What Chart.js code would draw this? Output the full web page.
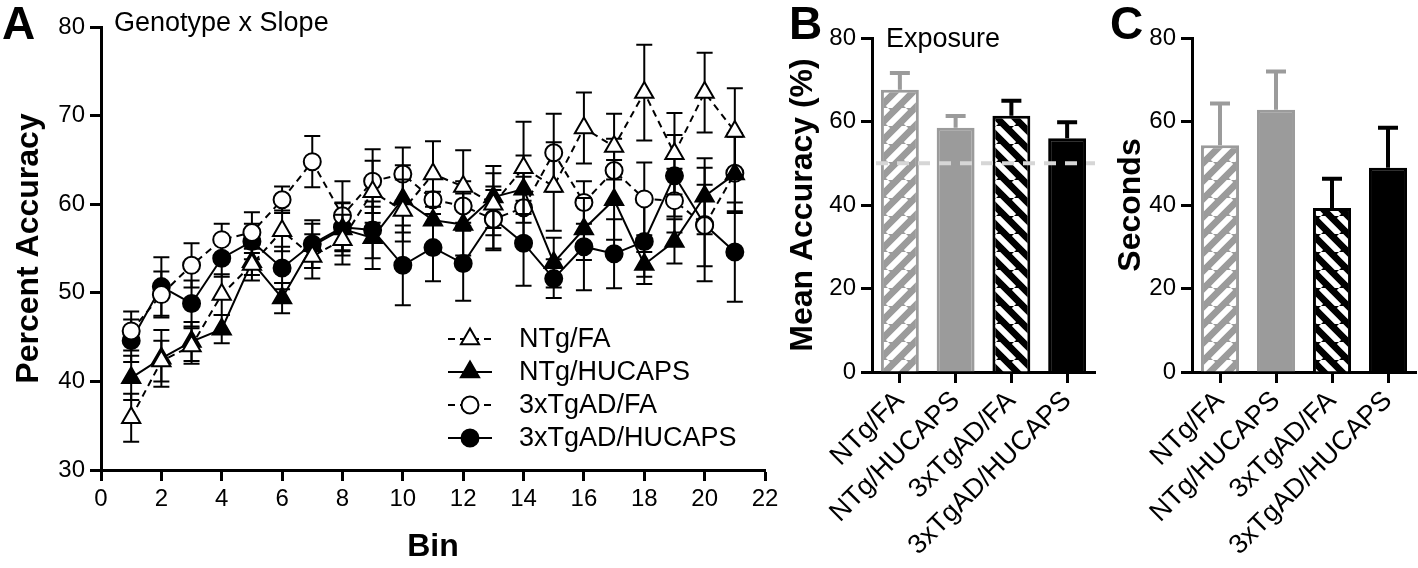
<!DOCTYPE html>
<html><head><meta charset="utf-8">
<script src="https://cdn.jsdelivr.net/npm/chart.js@4.4.0/dist/chart.umd.min.js"></script>
<style>
html,body{margin:0;padding:0;background:#fff;}
#wrap{position:relative;width:1418px;height:568px;overflow:hidden;font-family:"Liberation Sans",Arial,sans-serif;color:#000;}
canvas{position:absolute;top:0;}
.big{position:absolute;font-weight:bold;line-height:1;font-size:46px;}
.note{position:absolute;line-height:1;font-size:27px;white-space:nowrap;}
</style></head><body>
<div id="wrap">
<canvas id="cA" width="790" height="568" style="left:0;width:790px;height:568px"></canvas>
<canvas id="cB" width="330" height="568" style="left:780px;width:330px;height:568px"></canvas>
<canvas id="cC" width="313" height="568" style="left:1105px;width:313px;height:568px"></canvas>
<div class="big" style="left:2px;top:0px">A</div>
<div class="big" style="left:789px;top:0px">B</div>
<div class="big" style="left:1110px;top:0px">C</div>
<div class="note" style="left:114px;top:9px">Genotype x Slope</div>
<div class="note" style="left:886px;top:25px">Exposure</div>
</div>
<script>
// ---------- data ----------
const bins = [1,2,3,4,5,6,7,8,9,10,11,12,13,14,15,16,17,18,19,20,21];
const seriesNames = ['NTg/FA','NTg/HUCAPS','3xTgAD/FA','3xTgAD/HUCAPS'];
const ntgFA    = [35.9,42.3,44.0,49.8,53.2,57.0,54.1,56.0,61.4,59.3,63.4,62.0,60.0,64.1,62.0,68.6,66.5,72.6,65.7,72.6,68.2];
const ntgFAse  = [2.7,2.3,2.0,2.3,1.8,2.3,2.5,2.8,3.5,3.5,3.7,4.1,3.5,5.2,5.0,4.0,3.7,5.4,4.6,4.5,4.9];
const ntgHU    = [40.4,42.6,44.5,45.9,53.5,49.4,55.3,57.2,56.2,60.6,58.2,57.7,60.8,61.7,53.4,57.2,60.5,53.2,55.8,60.9,63.4];
const ntgHUse  = [2.5,3.2,2.2,1.6,1.5,1.7,2.5,3.0,3.5,3.8,3.2,3.5,3.5,3.8,2.8,3.5,4.5,1.4,2.5,4.3,4.2];
const tgFA     = [45.7,49.8,53.1,56.0,56.8,60.5,64.8,58.7,62.6,63.4,60.5,59.8,58.3,59.6,65.8,60.2,63.8,60.6,60.4,57.6,63.5];
const tgFAse   = [2.2,2.6,2.5,1.8,2.3,1.5,2.9,3.9,3.6,3.0,2.6,2.8,3.3,3.5,4.4,2.4,3.6,4.1,3.6,4.6,4.5];
const tgHU     = [44.6,50.7,48.8,53.9,55.8,52.8,55.5,57.4,57.1,53.1,55.1,53.3,58.4,55.6,51.6,55.2,54.4,55.8,63.2,57.7,54.6];
const tgHUse   = [2.4,3.3,2.6,2.1,2.0,2.4,2.7,2.7,3.2,4.5,3.8,4.2,3.6,4.8,2.2,4.9,3.9,4.8,4.6,6.4,5.6];

const groups   = ['NTg/FA','NTg/HUCAPS','3xTgAD/FA','3xTgAD/HUCAPS'];
const accMean  = [67.6,58.5,61.4,56.0];
const accSE    = [4.0,2.8,3.6,3.8];
const chance   = 50;
const secMean  = [54.3,62.8,39.3,48.9];
const secSE    = [10.0,9.2,7.0,9.6];

// ---------- styling helpers ----------
const FAM = '"Liberation Sans", Arial, sans-serif';
const GRAY = '#9b9b9b';
const tickFont = {family:FAM, size:24};
const titleFont = {family:FAM, size:32, weight:'bold'};

function stripes(base, dir) {
  const s = 18, c = document.createElement('canvas');
  c.width = s; c.height = s;
  const g = c.getContext('2d');
  g.fillStyle = base; g.fillRect(0,0,s,s);
  g.strokeStyle = '#fff'; g.lineWidth = 6;
  g.beginPath();
  for (const k of [-s, 0, s]) {
    if (dir > 0) { g.moveTo(k, s); g.lineTo(k + s, 0); }
    else { g.moveTo(k, 0); g.lineTo(k + s, s); }
  }
  g.stroke();
  return g.createPattern(c, 'repeat');
}

const errorBars = {
  id: 'errorBars',
  beforeDatasetDraw(chart, args) {
    const ds = chart.data.datasets[args.index];
    if (!ds.errors) return;
    const ctx = chart.ctx, ys = chart.scales.y;
    ctx.save();
    ctx.setLineDash([]);
    ctx.lineWidth = ds.errorWidth;
    args.meta.data.forEach((el, i) => {
      const raw = ds.data[i];
      const v = typeof raw === 'number' ? raw : raw.y;
      const e = ds.errors[i];
      ctx.strokeStyle = Array.isArray(ds.errorColor) ? ds.errorColor[i] : ds.errorColor;
      const x = el.x;
      const yHi = ys.getPixelForValue(v + e);
      const yLo = ds.errorUpOnly ? ys.getPixelForValue(v) : ys.getPixelForValue(v - e);
      const cw = ds.capHalf;
      ctx.beginPath();
      ctx.moveTo(x, yLo); ctx.lineTo(x, yHi);
      ctx.moveTo(x - cw, yHi); ctx.lineTo(x + cw, yHi);
      if (!ds.errorUpOnly) { ctx.moveTo(x - cw, yLo); ctx.lineTo(x + cw, yLo); }
      ctx.stroke();
    });
    ctx.restore();
  }
};

const chanceLine = {
  id: 'chanceLine',
  afterDatasetsDraw(chart, args, opts) {
    if (opts.value == null) return;
    const {ctx, chartArea} = chart;
    const y = chart.scales.y.getPixelForValue(opts.value);
    ctx.save();
    ctx.strokeStyle = '#d6d6d6'; ctx.lineWidth = 4; ctx.setLineDash([12, 9]);
    ctx.beginPath(); ctx.moveTo(chartArea.left + 4, y); ctx.lineTo(chartArea.right, y); ctx.stroke();
    ctx.restore();
  }
};

function marker(ctx, style, r, x, y, fill) {
  ctx.beginPath();
  if (style === 'circle') ctx.arc(x, y, r, 0, Math.PI * 2);
  else {
    let a = 0;
    ctx.moveTo(x + Math.sin(a) * r, y - Math.cos(a) * r);
    a += Math.PI * 2 / 3; ctx.lineTo(x + Math.sin(a) * r, y - Math.cos(a) * r);
    a += Math.PI * 2 / 3; ctx.lineTo(x + Math.sin(a) * r, y - Math.cos(a) * r);
    ctx.closePath();
  }
  ctx.fillStyle = fill; ctx.fill();
  ctx.lineWidth = 2; ctx.strokeStyle = '#000'; ctx.stroke();
}

const lineLegend = {
  id: 'lineLegend',
  afterDraw(chart, args, o) {
    const ctx = chart.ctx;
    chart.data.datasets.forEach((ds, i) => {
      const y = o.y0 + i * o.dy;
      ctx.save();
      ctx.strokeStyle = '#000'; ctx.lineWidth = 2; ctx.setLineDash(ds.borderDash || []);
      ctx.beginPath(); ctx.moveTo(o.x0, y); ctx.lineTo(o.x0 + o.len, y); ctx.stroke();
      ctx.setLineDash([]);
      marker(ctx, ds.pointStyle, ds.pointRadius, o.x0 + o.len / 2, y, ds.pointBackgroundColor);
      ctx.fillStyle = '#000'; ctx.font = '27px ' + FAM; ctx.textBaseline = 'middle'; ctx.textAlign = 'left';
      ctx.fillText(ds.label, o.textX, y + 1);
      ctx.restore();
    });
  }
};

function yAxis(min, max, step, title, width, titlePad) {
  return {
    type: 'linear', min, max,
    ticks: {stepSize: step, color: '#000', font: tickFont, padding: 5},
    grid: {drawOnChartArea: false, drawTicks: true, tickLength: 11, tickWidth: 3, tickColor: '#000'},
    border: {display: true, width: 3, color: '#000'},
    title: {display: true, text: title, color: '#000', font: titleFont, padding: {top: titlePad, bottom: 0}},
    afterFit(s) { s.width = width; }
  };
}

function mkLine(label, vals, errs, filled, shape, dashed) {
  return {
    label, data: bins.map((b, i) => ({x: b, y: vals[i]})),
    errors: errs, errorColor: '#000', errorWidth: 2, capHalf: 8,
    borderColor: '#000', borderWidth: 2, borderDash: dashed ? [7, 5] : [],
    pointStyle: shape, pointRadius: shape === 'triangle' ? 10.5 : 8.5, pointHoverRadius: shape === 'triangle' ? 10.5 : 8.5,
    pointBackgroundColor: filled ? '#000' : '#fff', pointBorderColor: '#000', pointBorderWidth: 2,
    tension: 0, fill: false, clip: false
  };
}

// ---------- Panel A ----------
new Chart(document.getElementById('cA'), {
  type: 'line',
  data: {datasets: [
    mkLine(seriesNames[0], ntgFA, ntgFAse, false, 'triangle', true),
    mkLine(seriesNames[1], ntgHU, ntgHUse, true, 'triangle', false),
    mkLine(seriesNames[2], tgFA, tgFAse, false, 'circle', true),
    mkLine(seriesNames[3], tgHU, tgHUse, true, 'circle', false)
  ]},
  options: {
    responsive: false, animation: false, devicePixelRatio: 1,
    layout: {padding: {left: 0, top: 27, right: 25, bottom: 0}},
    plugins: {legend: {display: false}, tooltip: {enabled: false},
      lineLegend: {x0: 448, len: 44, textX: 519, y0: 339, dy: 33}},
    scales: {
      x: {type: 'linear', min: 0, max: 22,
        ticks: {stepSize: 2, color: '#000', font: tickFont, padding: 4},
        grid: {drawOnChartArea: false, drawTicks: true, tickLength: 11, tickWidth: 3, tickColor: '#000'},
        border: {display: true, width: 3, color: '#000'},
        title: {display: true, text: 'Bin', color: '#000', font: titleFont, padding: {top: 0, bottom: 2}},
        afterFit(s) { s.height = 98; }},
      y: yAxis(30, 80, 10, 'Percent Accuracy', 101, 10)
    }
  },
  plugins: [errorBars, lineLegend]
});

// ---------- Panels B & C ----------
function barPanel(id, vals, errs, title, yWidth, titlePad, padRight, chanceVal) {
  const ctx = document.getElementById(id).getContext('2d');
  const fills = [stripes(GRAY, 1), GRAY, stripes('#000', -1), '#000'];
  const cols = [GRAY, GRAY, '#000', '#000'];
  new Chart(ctx, {
    type: 'bar',
    data: {labels: groups, datasets: [{
      data: vals, errors: errs, errorUpOnly: true, errorColor: cols, errorWidth: 4, capHalf: 10,
      backgroundColor: fills, borderColor: cols, borderWidth: 3, borderSkipped: 'bottom',
      barPercentage: 0.68, categoryPercentage: 1
    }]},
    options: {
      responsive: false, animation: false, devicePixelRatio: 1,
      layout: {padding: {left: 0, top: 38, right: padRight, bottom: 0}},
      plugins: {legend: {display: false}, tooltip: {enabled: false}, chanceLine: {value: chanceVal}},
      scales: {
        x: {type: 'category',
          ticks: {color: '#000', font: {family: FAM, size: 27}, minRotation: 45, maxRotation: 45, autoSkip: false, padding: 2},
          grid: {offset: false, drawOnChartArea: false, drawTicks: true, tickLength: 11, tickWidth: 3, tickColor: '#000'},
          border: {display: true, width: 3, color: '#000'},
          afterFit(s) { s.height = 196; }},
        y: yAxis(0, 80, 20, title, yWidth, titlePad)
      }
    },
    plugins: [errorBars, chanceLine]
  });
}
barPanel('cB', accMean, accSE, 'Mean Accuracy (%)', 92, 4, 15, chance);
barPanel('cC', secMean, secSE, 'Seconds', 87, 7, 2, null);
</script>
</body></html>
